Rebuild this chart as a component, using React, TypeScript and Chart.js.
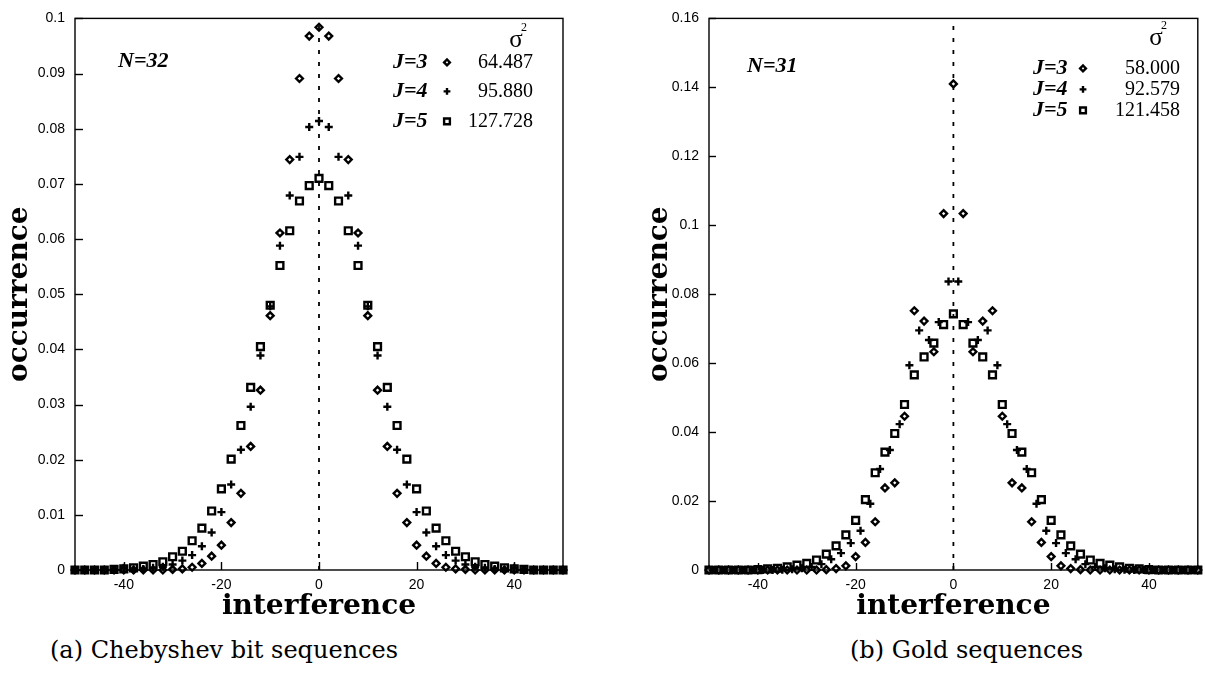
import React, { useEffect, useRef } from 'react';
import { Chart, registerables } from 'chart.js';
import { drawPoint } from 'chart.js/helpers';

Chart.register(...registerables);

// ---------- DATA ----------
const evenX = [-50, -48, -46, -44, -42, -40, -38, -36, -34, -32, -30, -28, -26, -24, -22, -20, -18, -16, -14, -12, -10, -8, -6, -4, -2, 0,
  2, 4, 6, 8, 10, 12, 14, 16, 18, 20, 22, 24, 26, 28, 30, 32, 34, 36, 38, 40, 42, 44, 46, 48, 50];
const oddX = [-49, -47, -45, -43, -41, -39, -37, -35, -33, -31, -29, -27, -25, -23, -21, -19, -17, -15, -13, -11, -9, -7, -5, -3, -1,
  1, 3, 5, 7, 9, 11, 13, 15, 17, 19, 21, 23, 25, 27, 29, 31, 33, 35, 37, 39, 41, 43, 45, 47, 49];

// (a) Chebyshev bit sequences, N=32  (x = evenX)
const chebJ3 = [0, 0, 0, 0, 0, 0, 0, 0, 0, 0, 0.0001, 0.0002, 0.0005, 0.0012, 0.0025, 0.0045, 0.0086, 0.0139, 0.0224, 0.0326, 0.0461, 0.0611, 0.0744, 0.0891, 0.0968, 0.0984,
  0.0968, 0.0891, 0.0744, 0.0611, 0.0461, 0.0326, 0.0224, 0.0139, 0.0086, 0.0045, 0.0025, 0.0012, 0.0005, 0.0002, 0.0001, 0, 0, 0, 0, 0, 0, 0, 0, 0, 0];
const chebJ4 = [0, 0, 0, 0, 0, 0.0004, 0.0001, 0.0002, 0.0004, 0.0006, 0.0010, 0.0017, 0.0027, 0.0043, 0.0068, 0.0105, 0.0155, 0.0218, 0.0296, 0.0389, 0.0478, 0.0588, 0.0679, 0.0749, 0.0803, 0.0814,
  0.0803, 0.0749, 0.0679, 0.0588, 0.0478, 0.0389, 0.0296, 0.0218, 0.0155, 0.0105, 0.0068, 0.0043, 0.0027, 0.0017, 0.0010, 0.0006, 0.0004, 0.0002, 0.0001, 0.0004, 0, 0, 0, 0, 0];
const chebJ5 = [0, 0, 0, 0, 0.0001, 0.0002, 0.0004, 0.0007, 0.0010, 0.0015, 0.0024, 0.0034, 0.0053, 0.0076, 0.0107, 0.0147, 0.0201, 0.0262, 0.0331, 0.0405, 0.0480, 0.0552, 0.0615, 0.0669, 0.0697, 0.0710,
  0.0697, 0.0669, 0.0615, 0.0552, 0.0480, 0.0405, 0.0331, 0.0262, 0.0201, 0.0147, 0.0107, 0.0076, 0.0053, 0.0034, 0.0024, 0.0015, 0.0010, 0.0007, 0.0004, 0.0002, 0.0001, 0, 0, 0, 0];

// (b) Gold sequences, N=31  (J=3, J=5 on evenX; J=4 on oddX)
const goldJ3 = [0, 0, 0, 0, 0, 0, 0, 0, 0, 0, 0, 0, 0.0001, 0.0004, 0.0012, 0.0039, 0.0080, 0.0140, 0.0238, 0.0253, 0.0446, 0.0752, 0.0722, 0.0633, 0.1034, 0.1410,
  0.1034, 0.0633, 0.0722, 0.0752, 0.0446, 0.0253, 0.0238, 0.0140, 0.0080, 0.0039, 0.0012, 0.0004, 0.0001, 0, 0, 0, 0, 0, 0, 0, 0, 0, 0, 0, 0];
const goldJ4 = [0, 0, 0, 0, 0, 0, 0, 0.0001, 0.0002, 0.0005, 0.0009, 0.0017, 0.0031, 0.0049, 0.0078, 0.0114, 0.0192, 0.0293, 0.0348, 0.0423, 0.0594, 0.0695, 0.0667, 0.0719, 0.0837,
  0.0837, 0.0719, 0.0667, 0.0695, 0.0594, 0.0423, 0.0348, 0.0293, 0.0192, 0.0114, 0.0078, 0.0049, 0.0031, 0.0017, 0.0009, 0.0005, 0.0002, 0.0001, 0, 0, 0, 0, 0, 0, 0];
const goldJ5 = [0, 0, 0, 0, 0, 0.0001, 0.0003, 0.0005, 0.0009, 0.0014, 0.0019, 0.0029, 0.0046, 0.0070, 0.0102, 0.0144, 0.0204, 0.0282, 0.0342, 0.0396, 0.0480, 0.0566, 0.0618, 0.0658, 0.0712, 0.0743,
  0.0712, 0.0658, 0.0618, 0.0566, 0.0480, 0.0396, 0.0342, 0.0282, 0.0204, 0.0144, 0.0102, 0.0070, 0.0046, 0.0029, 0.0019, 0.0014, 0.0009, 0.0005, 0.0003, 0.0001, 0, 0, 0, 0, 0];

const seriesLabels = ['J=3', 'J=4', 'J=5'];
const chebSigma = ['64.487', '95.880', '127.728'];
const goldSigma = ['58.000', '92.579', '121.458'];

const xTickValues = [-40, -20, 0, 20, 40];
const chebYTicks = [0, 0.01, 0.02, 0.03, 0.04, 0.05, 0.06, 0.07, 0.08, 0.09, 0.1];
const goldYTicks = [0, 0.02, 0.04, 0.06, 0.08, 0.1, 0.12, 0.14, 0.16];

// ---------- STYLE ----------
const markerStyles = [
  { pointStyle: 'rectRot', radius: 3.4 },
  { pointStyle: 'cross', radius: 4 },
  { pointStyle: 'rect', radius: 4.8 },
];
const markerLine = 2.4;

const decorPlugin = {
  id: 'decor',
  afterDatasetsDraw(chart: any, _args: any, o: any) {
    const { ctx, chartArea: ca, scales } = chart;
    ctx.save();
    ctx.strokeStyle = '#000';
    ctx.fillStyle = '#000';
    // frame
    ctx.lineWidth = 1.4;
    ctx.strokeRect(ca.left, ca.top, ca.right - ca.left, ca.bottom - ca.top);
    // inward ticks on y axis
    const ys = scales.y;
    ys.ticks.forEach((t: any) => {
      const py = Math.round(ys.getPixelForValue(t.value)) + 0.5;
      ctx.beginPath();
      ctx.moveTo(ca.left, py);
      ctx.lineTo(ca.left + o.tickLen, py);
      ctx.stroke();
    });
    const xs = scales.x;
    xs.ticks.forEach((t: any) => {
      const px = Math.round(xs.getPixelForValue(t.value)) + 0.5;
      ctx.beginPath();
      ctx.moveTo(px, ca.bottom);
      ctx.lineTo(px, ca.bottom - o.tickLen);
      ctx.stroke();
    });
    // N label
    ctx.textBaseline = 'middle';
    ctx.textAlign = 'left';
    ctx.font = 'italic bold 22px "Liberation Serif"';
    ctx.fillText(o.nLabel, ca.left + o.nDx, ca.top + o.nDy);
    // sigma^2 header
    ctx.textAlign = 'center';
    ctx.font = '25px "Liberation Serif"';
    ctx.fillText('σ', ca.left + o.sigDx, ca.top + o.sigDy);
    ctx.font = '12px "Liberation Serif"';
    ctx.fillText('2', ca.left + o.sigDx + 8, ca.top + o.sigDy - 13);
    // rows
    o.labels.forEach((lab: string, i: number) => {
      const y = ca.top + o.rowDy[i];
      ctx.textAlign = 'left';
      ctx.font = 'italic bold 22px "Liberation Serif"';
      ctx.fillText(lab, ca.left + o.labDx, y);
      ctx.lineWidth = markerLine;
      ctx.fillStyle = 'rgba(0,0,0,0)';
      drawPoint(ctx, { pointStyle: markerStyles[i].pointStyle, radius: markerStyles[i].radius * 0.85, borderWidth: markerLine, rotation: 0 } as any, ca.left + o.markDx, y);
      ctx.fillStyle = '#000';
      ctx.textAlign = 'right';
      ctx.font = '20px "Liberation Serif"';
      ctx.fillText(o.values[i], ca.left + o.valDx, y);
    });
    ctx.restore();
  },
};

function fmt(v: number) {
  return String(Number(v.toFixed(4)));
}

function makeConfig(p: any) {
  const sets = p.series.map((s: any, i: number) => ({
    label: seriesLabels[i],
    data: s.x.map((x: number, k: number) => ({ x, y: s.y[k] })),
    pointStyle: markerStyles[i].pointStyle,
    pointRadius: markerStyles[i].radius,
    pointBorderWidth: markerLine,
    pointBorderColor: '#000',
    pointBackgroundColor: 'rgba(0,0,0,0)',
    borderColor: '#000',
    showLine: false,
    clip: false,
    order: 1,
  }));
  sets.unshift({
    type: 'line',
    label: 'zero',
    data: [{ x: 0, y: 0 }, { x: 0, y: p.yMax }],
    borderColor: '#000',
    borderWidth: 1.8,
    borderDash: [4, 8],
    pointRadius: 0,
    showLine: true,
    fill: false,
    order: 2,
  });
  return {
    type: 'scatter',
    data: { datasets: sets },
    plugins: [decorPlugin],
    options: {
      animation: false,
      responsive: false,
      maintainAspectRatio: false,
      events: [],
      layout: { padding: { top: p.padTop, right: p.padRight, left: 0, bottom: 0 } },
      scales: {
        x: {
          type: 'linear',
          min: -50,
          max: 50,
          afterBuildTicks: (s: any) => { s.ticks = xTickValues.map((v) => ({ value: v })); },
          afterFit: (s: any) => { s.height = p.xAxisH; },
          grid: { display: false, drawTicks: false },
          border: { display: false },
          ticks: { color: '#000', font: { family: 'Liberation Sans', size: 14 }, padding: 7, maxRotation: 0, autoSkip: false },
          title: { display: true, text: 'interference', color: '#000', font: { family: 'DejaVu Serif', weight: 'bold', size: 28, lineHeight: 1 }, padding: { top: 0, bottom: 4 } },
        },
        y: {
          type: 'linear',
          min: 0,
          max: p.yMax,
          afterBuildTicks: (s: any) => { s.ticks = p.yTicks.map((v: number) => ({ value: v })); },
          afterFit: (s: any) => { s.width = p.yAxisW; },
          grid: { display: false, drawTicks: false },
          border: { display: false },
          ticks: { color: '#000', font: { family: 'Liberation Sans', size: 14 }, padding: 10, autoSkip: false, callback: (v: number) => fmt(v) },
          title: { display: true, text: 'occurrence', color: '#000', font: { family: 'DejaVu Serif', weight: 'bold', size: 28, lineHeight: 1 }, padding: { top: p.yTitlePad, bottom: 0 } },
        },
      },
      plugins: {
        legend: { display: false },
        tooltip: { enabled: false },
        title: { display: false },
        decor: p.decor,
      },
    },
  };
}

const leftParams = {
  yMax: 0.1,
  yTicks: chebYTicks,
  padTop: 10,
  padRight: 37,
  yAxisW: 75,
  xAxisH: 55,
  yTitlePad: 6,
  series: [
    { x: evenX, y: chebJ3 },
    { x: evenX, y: chebJ4 },
    { x: evenX, y: chebJ5 },
  ],
  decor: {
    tickLen: 8,
    nLabel: 'N=32', nDx: 43, nDy: 43,
    sigDx: 441, sigDy: 22,
    labels: seriesLabels, values: chebSigma,
    labDx: 318, markDx: 372, valDx: 458,
    rowDy: [44, 73, 103],
  },
};

const rightParams = {
  yMax: 0.16,
  yTicks: goldYTicks,
  padTop: 7,
  padRight: 3,
  yAxisW: 89,
  xAxisH: 55,
  yTitlePad: 26,
  series: [
    { x: evenX, y: goldJ3 },
    { x: oddX, y: goldJ4 },
    { x: evenX, y: goldJ5 },
  ],
  decor: {
    tickLen: 7,
    nLabel: 'N=31', nDx: 38, nDy: 48,
    sigDx: 447, sigDy: 20,
    labels: seriesLabels, values: goldSigma,
    labDx: 324, markDx: 374, valDx: 471,
    rowDy: [50, 71, 92],
  },
};

export default function App() {
  const leftRef = useRef<HTMLCanvasElement>(null);
  const rightRef = useRef<HTMLCanvasElement>(null);

  useEffect(() => {
    const c1 = new Chart(leftRef.current as HTMLCanvasElement, makeConfig(leftParams) as any);
    const c2 = new Chart(rightRef.current as HTMLCanvasElement, makeConfig(rightParams) as any);
    return () => {
      c1.destroy();
      c2.destroy();
    };
  }, []);

  const caption: React.CSSProperties = {
    position: 'absolute',
    fontFamily: '"DejaVu Serif", serif',
    fontSize: 24,
    lineHeight: '28px',
    color: '#000',
    whiteSpace: 'nowrap',
  };

  return (
    <div style={{ position: 'fixed', left: 0, top: 0, width: 1205, height: 679, background: '#fff', overflow: 'hidden' }}>
      <canvas ref={leftRef} width={600} height={625} style={{ position: 'absolute', left: 0, top: 0, width: 600, height: 625 }} />
      <canvas ref={rightRef} width={585} height={625} style={{ position: 'absolute', left: 620, top: 0, width: 585, height: 625 }} />
      <div style={{ ...caption, left: 50, top: 636 }}>(a) Chebyshev bit sequences</div>
      <div style={{ ...caption, left: 850, top: 636 }}>(b) Gold sequences</div>
    </div>
  );
}
